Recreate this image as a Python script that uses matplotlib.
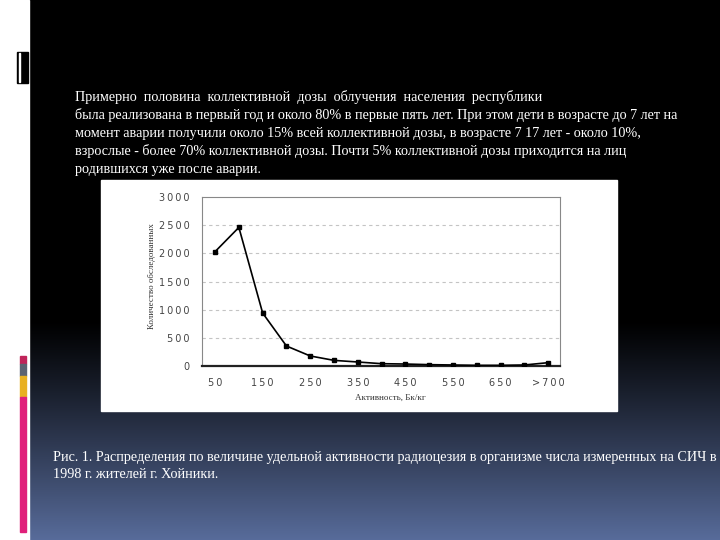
import numpy as np
import matplotlib
matplotlib.use("Agg")
import matplotlib.pyplot as plt
from matplotlib.patches import Rectangle

# ---- data ----
categories = ["50", "100", "150", "200", "250", "300", "350", "400", "450",
              "500", "550", "600", "650", "700", ">700"]
counts = [2030, 2460, 940, 355, 178, 100, 71, 41, 35, 24, 18, 12, 12, 18, 59]
y_ticks = [0, 500, 1000, 1500, 2000, 2500, 3000]
x_label = "Активность, Бк/кг"
y_label = "Количество обследованных"
body_lines = [
    "Примерно  половина  коллективной  дозы  облучения  населения  республики",
    "была реализована в первый год и около 80% в первые пять лет. При этом дети в возрасте до 7 лет на",
    "момент аварии получили около 15% всей коллективной дозы, в возрасте 7 17 лет - около 10%,",
    "взрослые - более 70% коллективной дозы. Почти 5% коллективной дозы приходится на лиц",
    "родившихся уже после аварии.",
]
caption_lines = [
    "Рис. 1. Распределения по величине удельной активности радиоцезия в организме числа измеренных на СИЧ в",
    "1998 г. жителей г. Хойники.",
]

W, H = 720, 540
fig = plt.figure(figsize=(W / 100, H / 100), dpi=100)


def box(x0, y0, x1, y1):
    """pixel box (top-left origin) -> figure fraction rect"""
    return [x0 / W, 1 - y1 / H, (x1 - x0) / W, (y1 - y0) / H]


def spaced(s):
    return "\u2009".join(s)


# ---- background ----
bg = fig.add_axes([0, 0, 1, 1])
bg.set_xlim(0, W)
bg.set_ylim(H, 0)
bg.axis("off")
yy = np.arange(H)
t = np.clip((yy - 320) / (H - 320), 0, 1) ** 1.1
bottom = np.array([88, 108, 155]) / 255
grad = (t[:, None] * bottom[None, :])[:, None, :]
bg.imshow(np.repeat(grad, 2, axis=1), extent=[29, W, H, 0], aspect="auto", zorder=0)
bg.add_patch(Rectangle((0, 0), 29, H, color="white", zorder=1))
bg.add_patch(Rectangle((17, 52), 11, 31, color="black", zorder=2))
bg.add_patch(Rectangle((19, 53), 1.2, 29, color="white", zorder=3))
for y0, y1, c in [(356, 364, "#c0245a"), (364, 376, "#5c6372"),
                  (376, 397, "#e8b022"), (397, 532, "#e0207a")]:
    bg.add_patch(Rectangle((20, y0), 6, y1 - y0, color=c, zorder=2))

# white chart panel
bg.add_patch(Rectangle((101, 180), 516, 231, color="white", zorder=2))

# body text
serif = ["Liberation Serif", "DejaVu Serif"]
for i, line in enumerate(body_lines):
    bg.text(75, 97 + i * 18, line, color="white", fontsize=10.15, family=serif,
            va="center", ha="left", zorder=5)
for i, line in enumerate(caption_lines):
    bg.text(53, 457 + i * 17.5, line, color="white", fontsize=10.2, family=serif,
            va="center", ha="left", zorder=5)

# ---- chart ----
ax = fig.add_axes(box(202, 197, 560, 366))
x = np.arange(len(categories))
ax.plot(x, counts, color="black", lw=1.2, marker="s", ms=3.2, zorder=3)
ax.set_xlim(-0.55, len(categories) - 0.5)
ax.set_ylim(0, 3000)
ax.set_yticks(y_ticks)
ax.set_yticklabels([spaced(str(v)) for v in y_ticks], fontsize=7, color="#444444")
ax.set_xticks(x[::2])
ax.set_xticklabels([spaced(c) for c in categories[::2]], fontsize=7, color="#444444")
ax.tick_params(axis="both", length=0)
ax.tick_params(axis="y", pad=9)
ax.tick_params(axis="x", pad=9)
for v in y_ticks[1:-1]:
    ax.axhline(v, color="#c4c4c4", lw=0.8, ls=(0, (3, 3)), zorder=1)
for s in ["top", "right", "left"]:
    ax.spines[s].set_color("#888888")
    ax.spines[s].set_linewidth(0.8)
ax.spines["bottom"].set_color("#222222")
ax.spines["bottom"].set_linewidth(1.6)
ax.set_facecolor("white")

bg2 = fig.add_axes([0, 0, 1, 1], facecolor="none")
bg2.set_xlim(0, W)
bg2.set_ylim(H, 0)
bg2.axis("off")
bg2.text(390, 398, x_label, fontsize=6.5, color="#333333", ha="center", va="center",
         family=serif)
bg2.text(152, 276, y_label, fontsize=6.5, color="#333333", ha="center", va="center",
         rotation=90, family=serif)

fig.savefig("out.png", dpi=100)
